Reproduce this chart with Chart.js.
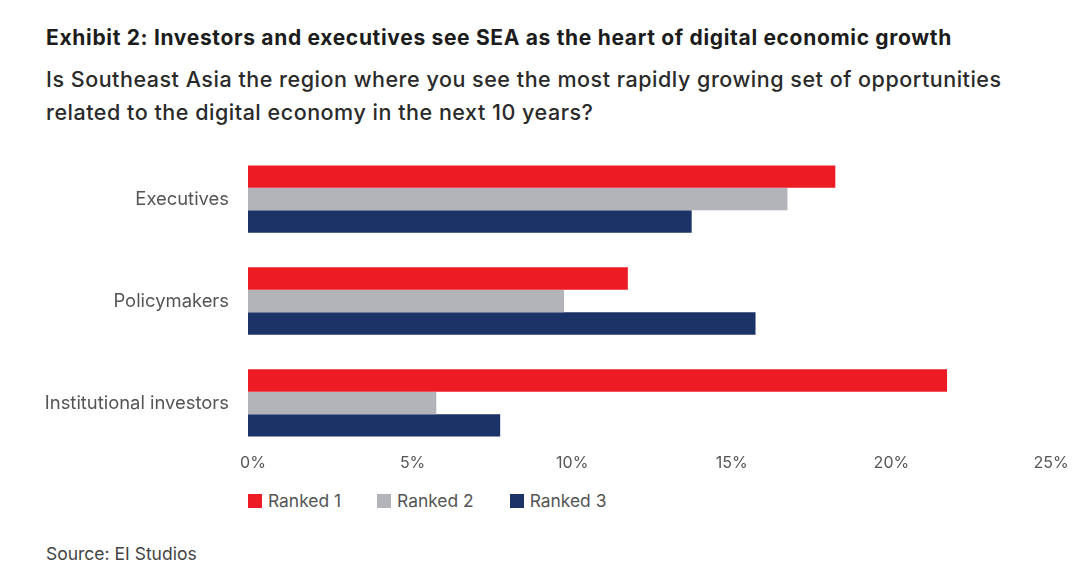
<!DOCTYPE html>
<html>
<head>
<meta charset="utf-8">
<script src="https://cdn.jsdelivr.net/npm/chart.js@4.4.1/dist/chart.umd.min.js"></script>
<style>
  html, body { margin: 0; padding: 0; background: #fff; }
  body { width: 1080px; height: 576px; position: relative; overflow: hidden; font-family: Inter, "Open Sans", sans-serif; }
  #title { position: absolute; left: 46px; top: 25px; font-size: 21px; font-weight: 700; color: #1c1c1c; white-space: nowrap; letter-spacing: 0.67px; }
  #subtitle { position: absolute; left: 46px; top: 63px; font-size: 21.5px; font-weight: 500; color: #2a2a2a; line-height: 33px; white-space: nowrap; letter-spacing: 0.52px; }
  #wrap { position: absolute; left: 0; top: 118px; width: 1080px; height: 366px; }
  #legend { position: absolute; left: 248px; top: 490px; display: flex; font-size: 17.4px; color: #555; }
  #legend .item { display: flex; align-items: center; margin-right: 36px; }
  #legend .sw { width: 14px; height: 14px; margin-right: 6px; }
  #source { position: absolute; left: 46px; top: 543px; font-size: 17.5px; color: #444; }
</style>
</head>
<body>
<div id="title">Exhibit 2: Investors and executives see SEA as the heart of digital economic growth</div>
<div id="subtitle">Is Southeast Asia the region where you see the most rapidly growing set of opportunities<br>related to the digital economy in the next 10 years?</div>
<div id="wrap"><canvas id="c" width="1080" height="366"></canvas></div>
<div id="legend"></div>
<div id="source">Source: EI Studios</div>
<script>
const categories = ["Executives", "Policymakers", "Institutional investors"];
const seriesNames = ["Ranked 1", "Ranked 2", "Ranked 3"];
const ranked1 = [18.4, 11.9, 21.9];
const ranked2 = [16.9, 9.9, 5.9];
const ranked3 = [13.9, 15.9, 7.9];
const tickValues = [0, 5, 10, 15, 20, 25];
const colors = ["#ED1C24", "#B2B4BA", "#1B3366"];

const seriesValues = [ranked1, ranked2, ranked3];
const legendEl = document.getElementById('legend');
seriesNames.forEach((n, i) => {
  const it = document.createElement('div'); it.className = 'item';
  const sw = document.createElement('div'); sw.className = 'sw'; sw.style.background = colors[i];
  const tx = document.createElement('span'); tx.textContent = n;
  it.appendChild(sw); it.appendChild(tx); legendEl.appendChild(it);
});

new Chart(document.getElementById('c'), {
  type: 'bar',
  data: {
    labels: categories,
    datasets: seriesNames.map((n, i) => ({
      label: n,
      data: seriesValues[i],
      backgroundColor: colors[i],
      borderWidth: 0,
      barPercentage: 1.0,
      categoryPercentage: 0.66
    }))
  },
  options: {
    indexAxis: 'y',
    responsive: false,
    animation: false,
    devicePixelRatio: 1,
    layout: { padding: { top: 8, right: 34, bottom: 0, left: 0 } },
    plugins: { legend: { display: false }, tooltip: { enabled: false } },
    scales: {
      x: {
        min: 0, max: 25,
        grid: { display: false, drawTicks: false },
        border: { display: false },
        afterBuildTicks: (s) => { s.ticks = tickValues.map(v => ({ value: v })); },
        afterFit: (s) => { s.height = 26; },
        ticks: {
          padding: 0,
          labelOffset: 5,
          color: '#555',
          font: { family: 'Inter', size: 16 },
          callback: (v) => v + '%'
        }
      },
      y: {
        grid: { display: false, drawTicks: false },
        border: { display: false },
        afterFit: (s) => { s.width = 248; },
        ticks: {
          padding: 19,
          color: '#555',
          font: { family: 'Inter', size: 18.4 }
        }
      }
    }
  }
});
</script>
</body>
</html>
